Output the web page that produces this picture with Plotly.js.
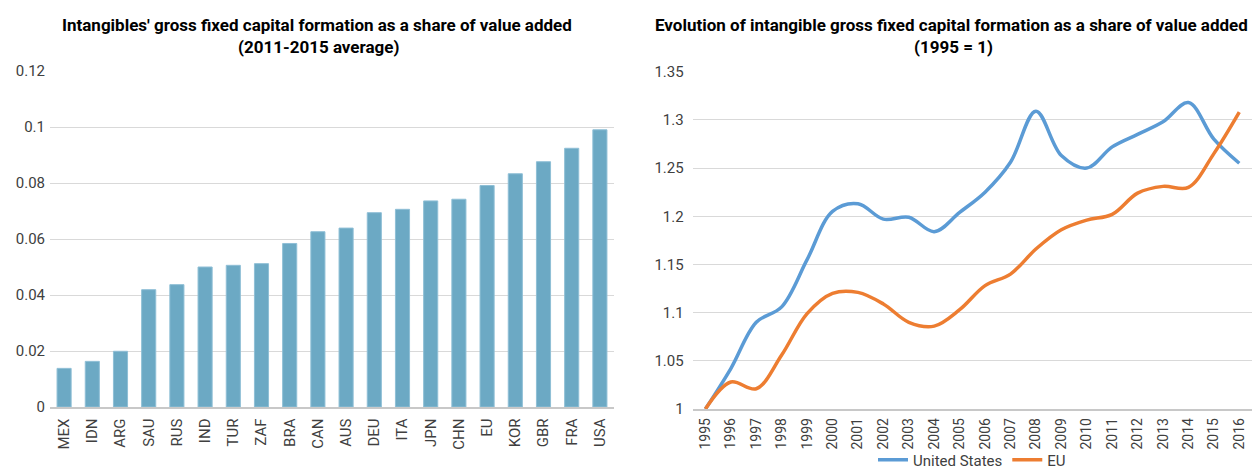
<!DOCTYPE html>
<html>
<head>
<meta charset="utf-8">
<script src="https://cdn.plot.ly/plotly-3.0.1.min.js"></script>
<style>
  html, body { margin: 0; padding: 0; background: #ffffff; }
  #chart { width: 1252px; height: 471px; }
</style>
</head>
<body>
<div id="chart"></div>
<script>
// Left chart: intangibles GFCF share of value added (2011-2015 average)
const countries = ["MEX","IDN","ARG","SAU","RUS","IND","TUR","ZAF","BRA","CAN","AUS","DEU","ITA","JPN","CHN","EU","KOR","GBR","FRA","USA"];
const shareValues = [0.0138,0.0163,0.0199,0.0419,0.0437,0.0500,0.0506,0.0512,0.0584,0.0626,0.0639,0.0694,0.0706,0.0736,0.0742,0.0791,0.0833,0.0876,0.0924,0.0990];
const leftTicks = [0,0.02,0.04,0.06,0.08,0.1,0.12];
const leftTickText = ["0","0.02","0.04","0.06","0.08","0.1","0.12"];

// Right chart: evolution (1995 = 1)
const years = ["1995","1996","1997","1998","1999","2000","2001","2002","2003","2004","2005","2006","2007","2008","2009","2010","2011","2012","2013","2014","2015","2016"];
const usValues = [1.000,1.042,1.090,1.106,1.155,1.205,1.213,1.197,1.199,1.184,1.204,1.225,1.256,1.309,1.263,1.250,1.272,1.285,1.298,1.318,1.280,1.255];
const euValues = [1.000,1.028,1.021,1.056,1.099,1.120,1.121,1.109,1.090,1.086,1.103,1.128,1.140,1.166,1.186,1.196,1.202,1.224,1.231,1.230,1.265,1.308];
const rightTicks = [1,1.05,1.1,1.15,1.2,1.25,1.3,1.35];
const rightTickText = ["1","1.05","1.1","1.15","1.2","1.25","1.3","1.35"];

const W = 1252, H = 471;
const FAM = "Roboto, 'Open Sans', sans-serif";
const tickFont = {family: FAM, size: 15, color: "#404040"};
const yearFont = {family: FAM, size: 14, color: "#404040"};
const legendFont = {family: FAM, size: 15, color: "#404040"};
const titleFont = {family: FAM, size: 17, color: "#000000", weight: 700};

const traces = [
  {
    type: "bar", x: countries, y: shareValues, xaxis: "x", yaxis: "y",
    marker: {color: "#6ca9c4", line: {color: "#8fbfd6", width: 1}},
    showlegend: false, hoverinfo: "x+y"
  },
  {
    type: "scatter", mode: "lines", name: "United States", x: years, y: usValues,
    xaxis: "x2", yaxis: "y2",
    line: {color: "#5b9bd5", width: 3.5, shape: "spline", smoothing: 1}
  },
  {
    type: "scatter", mode: "lines", name: "EU", x: years, y: euValues,
    xaxis: "x2", yaxis: "y2",
    line: {color: "#ed7d31", width: 3.5, shape: "spline", smoothing: 1}
  }
];

const layout = {
  width: W, height: H,
  margin: {l: 0, r: 0, t: 0, b: 0, autoexpand: false},
  paper_bgcolor: "#ffffff", plot_bgcolor: "#ffffff",
  bargap: 0.5,
  font: tickFont,
  xaxis: {
    domain: [50 / W, 614 / W], anchor: "y", automargin: false,
    type: "category", range: [-0.5, 19.5],
    tickangle: -90, tickfont: tickFont, ticks: "", ticklabelstandoff: 4,
    showgrid: false, showline: true, linecolor: "#c8c8c8", linewidth: 1.5,
    zeroline: false, fixedrange: true
  },
  yaxis: {
    domain: [1 - 407 / H, 1 - 71 / H], anchor: "x", automargin: false,
    range: [0, 0.12], tickvals: leftTicks, ticktext: leftTickText,
    tickfont: tickFont, ticks: "", ticklabelstandoff: 4,
    showgrid: true, gridcolor: "#d9d9d9", gridwidth: 1,
    zeroline: false, showline: false, fixedrange: true
  },
  xaxis2: {
    domain: [692.7 / W, 1], anchor: "y2", automargin: false,
    type: "category", range: [-0.5, 21.5],
    tickangle: -90, tickfont: yearFont, ticks: "", ticklabelstandoff: 2,
    showgrid: false, showline: true, linecolor: "#c8c8c8", linewidth: 1.5,
    zeroline: false, fixedrange: true
  },
  yaxis2: {
    domain: [1 - 409 / H, 1 - 71.7 / H], anchor: "x2", automargin: false,
    range: [1, 1.35], tickvals: rightTicks, ticktext: rightTickText,
    tickfont: tickFont, ticks: "", ticklabelstandoff: 8,
    showgrid: true, gridcolor: "#d9d9d9", gridwidth: 1,
    zeroline: false, showline: false, fixedrange: true
  },
  showlegend: true,
  legend: {
    orientation: "h", x: 972 / W, xanchor: "center", y: 11 / H, yanchor: "middle",
    font: legendFont, bgcolor: "rgba(0,0,0,0)", itemwidth: 30, tracegroupgap: 0
  },
  annotations: [
    {text: "Intangibles' gross fixed capital formation as a share of value added",
     xref: "paper", yref: "paper", x: 317 / W, y: 1 - 25 / H, xanchor: "center", yanchor: "middle",
     showarrow: false, font: titleFont},
    {text: "(2011-2015 average)",
     xref: "paper", yref: "paper", x: 318 / W, y: 1 - 47 / H, xanchor: "center", yanchor: "middle",
     showarrow: false, font: titleFont},
    {text: "Evolution of intangible gross fixed capital formation as a share of value added",
     xref: "paper", yref: "paper", x: 951 / W, y: 1 - 25 / H, xanchor: "center", yanchor: "middle",
     showarrow: false, font: titleFont},
    {text: "(1995 = 1)",
     xref: "paper", yref: "paper", x: 953 / W, y: 1 - 47 / H, xanchor: "center", yanchor: "middle",
     showarrow: false, font: titleFont}
  ]
};

Plotly.newPlot("chart", traces, layout, {displayModeBar: false, staticPlot: true});
</script>
</body>
</html>
